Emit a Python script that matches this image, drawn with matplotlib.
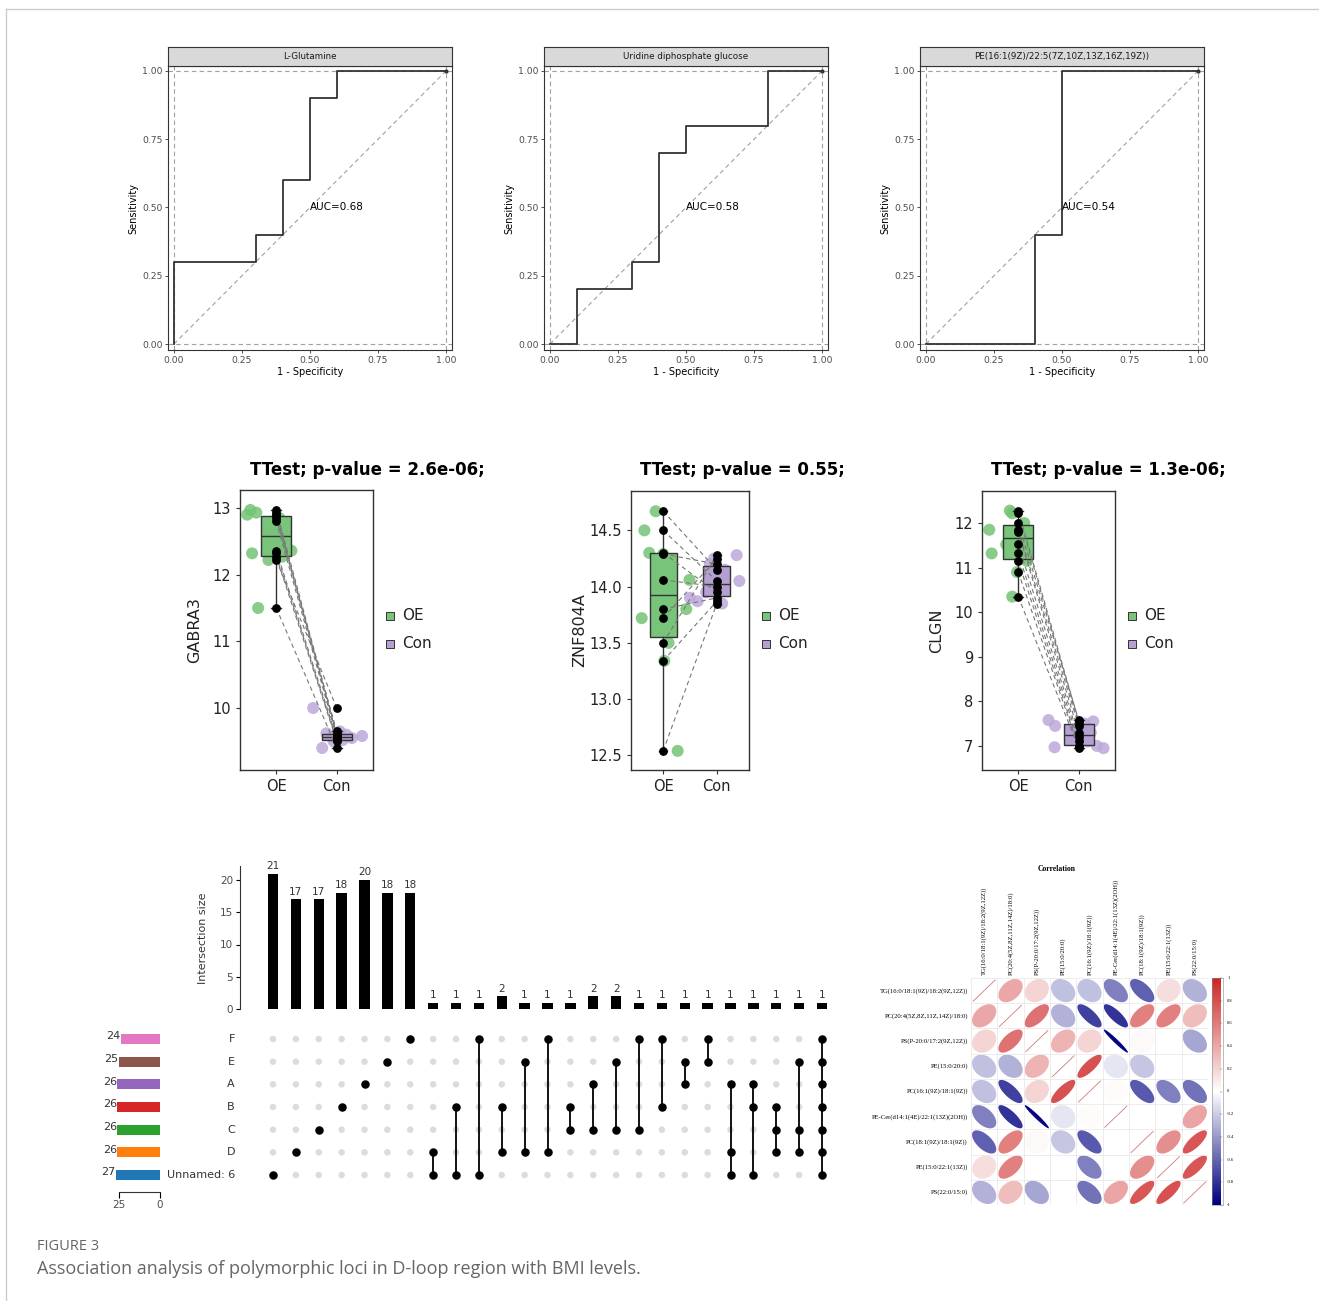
import numpy as np
import matplotlib
matplotlib.use('Agg')
import matplotlib.pyplot as plt
from matplotlib.patches import Polygon, Rectangle
from matplotlib.lines import Line2D
from matplotlib.colors import LinearSegmentedColormap

W, H = 1319, 1301

# ---------------- data ----------------
# ROC curves
roc_names = ["L-Glutamine", "Uridine diphosphate glucose", "PE(16:1(9Z)/22:5(7Z,10Z,13Z,16Z,19Z))"]
roc_fpr = [
    [0, 0, 0.3, 0.3, 0.4, 0.4, 0.5, 0.5, 0.6, 0.6, 1.0],
    [0, 0.1, 0.1, 0.3, 0.3, 0.4, 0.4, 0.5, 0.5, 0.8, 0.8, 1.0],
    [0, 0.4, 0.4, 0.5, 0.5, 1.0],
]
roc_tpr = [
    [0, 0.3, 0.3, 0.4, 0.4, 0.6, 0.6, 0.9, 0.9, 1.0, 1.0],
    [0, 0, 0.2, 0.2, 0.3, 0.3, 0.7, 0.7, 0.8, 0.8, 1.0, 1.0],
    [0, 0, 0.4, 0.4, 1.0, 1.0],
]
roc_auc = [0.68, 0.58, 0.54]

# paired boxplots (OE vs Con), values paired by index
genes = ["GABRA3", "ZNF804A", "CLGN"]
pvals = ["2.6e-06", "0.55", "1.3e-06"]
oe_vals = [
    [12.97, 12.93, 12.90, 12.85, 12.80, 12.36, 12.32, 12.27, 12.22, 11.50],
    [14.67, 14.50, 14.30, 14.29, 14.06, 13.80, 13.72, 13.50, 13.34, 12.54],
    [12.28, 12.22, 12.00, 11.85, 11.80, 11.52, 11.32, 11.15, 10.90, 10.35],
]
con_vals = [
    [9.62, 9.60, 9.58, 9.65, 9.56, 9.55, 9.52, 9.50, 10.00, 9.40],
    [14.15, 14.05, 13.95, 14.20, 14.00, 13.90, 14.25, 14.28, 13.87, 13.85],
    [7.55, 7.50, 7.58, 7.45, 7.30, 7.20, 7.10, 7.00, 6.97, 6.95],
]
# horizontal jitter of the coloured points
oe_jit = [
    [-0.43, -0.33, -0.48, 0.05, -0.05, 0.25, -0.40, 0.10, -0.13, -0.30],
    [-0.14, -0.35, -0.26, 0.00, 0.49, 0.43, -0.40, 0.10, 0.02, 0.27],
    [-0.14, -0.10, 0.10, -0.48, 0.05, -0.20, -0.44, 0.15, -0.02, -0.10],
]
con_jit = [
    [-0.17, 0.16, 0.42, 0.05, -0.08, 0.25, 0.10, -0.05, -0.39, -0.24],
    [0.15, 0.42, -0.20, -0.13, 0.08, -0.50, -0.05, 0.37, -0.36, 0.10],
    [0.24, 0.10, -0.50, -0.39, 0.20, -0.02, 0.15, 0.30, -0.40, 0.41],
]
box_yticks = [[10, 11, 12, 13], [12.5, 13.0, 13.5, 14.0, 14.5], [7, 8, 9, 10, 11, 12]]
box_ylims = [(9.07, 13.27), (12.37, 14.85), (6.46, 12.72)]

# UpSet plot
set_names = ["F", "E", "A", "B", "C", "D", "Unnamed: 6"]
set_sizes = [24, 25, 26, 26, 26, 26, 27]
set_colors = ["#E377C2", "#8C564B", "#9467BD", "#D62728", "#2CA02C", "#FF7F0E", "#1F77B4"]
inter_sizes = [21, 17, 17, 18, 20, 18, 18, 1, 1, 1, 2, 1, 1, 1, 2, 2, 1, 1, 1, 1, 1, 1, 1, 1, 1]
inter_members = [
    ["Unnamed: 6"], ["D"], ["C"], ["B"], ["A"], ["E"], ["F"],
    ["D", "Unnamed: 6"], ["B", "Unnamed: 6"], ["F", "Unnamed: 6"],
    ["B", "D"], ["E", "D"], ["F", "D"], ["B", "C"], ["A", "C"], ["E", "C"],
    ["F", "C"], ["F", "B"], ["E", "A"], ["F", "E"],
    ["A", "D", "Unnamed: 6"], ["A", "B", "Unnamed: 6"], ["B", "C", "D"], ["E", "C", "D"],
    ["F", "E", "A", "B", "C", "D", "Unnamed: 6"],
]

# correlation matrix (nan = not significant, left blank)
corr_names = ["TG(16:0/18:1(9Z)/18:2(9Z,12Z))", "PC(20:4(5Z,8Z,11Z,14Z)/18:0)",
              "PS(P-20:0/17:2(9Z,12Z))", "PE(15:0/20:0)", "PC(16:1(9Z)/18:1(9Z))",
              "PE-Cer(d14:1(4E)/22:1(13Z)(2OH))", "PC(18:1(9Z)/18:1(9Z))",
              "PE(15:0/22:1(13Z))", "PS(22:0/15:0)"]
nan = np.nan
corr = [
    [1.00, 0.40, 0.20, -0.25, -0.25, -0.50, -0.62, 0.15, -0.30],
    [0.40, 1.00, 0.65, -0.30, -0.75, -0.80, 0.58, 0.58, 0.30],
    [0.20, 0.65, 1.00, 0.35, 0.20, -0.97, 0.03, nan, -0.35],
    [-0.25, -0.30, 0.35, 1.00, 0.80, -0.10, -0.22, nan, nan],
    [-0.25, -0.75, 0.20, 0.80, 1.00, 0.02, -0.65, -0.50, -0.55],
    [-0.50, -0.80, -0.97, -0.10, 0.02, 1.00, nan, nan, 0.42],
    [-0.62, 0.58, 0.03, -0.22, -0.65, nan, 1.00, 0.52, 0.78],
    [0.15, 0.58, nan, nan, -0.50, nan, 0.52, 1.00, 0.78],
    [-0.30, 0.30, -0.35, nan, -0.55, 0.42, 0.78, 0.80, 1.00],
]
cbar_ticks = [1, 0.8, 0.6, 0.4, 0.2, 0, -0.2, -0.4, -0.6, -0.8, -1]


def box(x0, y0, x1, y1):
    return [x0 / W, 1 - y1 / H, (x1 - x0) / W, (y1 - y0) / H]


def fx(x):
    return x / W


def fy(y):
    return 1 - y / H


fig = plt.figure(figsize=(W / 100, H / 100), dpi=100)
fig.patch.set_facecolor('white')

# outer frame
fig.add_artist(Line2D([fx(6), fx(1318)], [fy(9), fy(9)], color='#cccccc', lw=1))
fig.add_artist(Line2D([fx(6), fx(6)], [fy(9), 0], color='#cccccc', lw=1))

# ---------------- ROC panels ----------------
for i, x0 in enumerate([168, 544, 920]):
    ax = fig.add_axes(box(x0, 66, x0 + 284, 350))
    ax.set_xlim(-6 / 272, 1 + 6 / 272)
    ax.set_ylim(-6 / 273, 1 + 5 / 273)
    gc = '#a0a0a0'
    for v in (0, 1):
        ax.axhline(v, color=gc, lw=0.8, ls=(0, (4, 3)))
        ax.axvline(v, color=gc, lw=0.8, ls=(0, (4, 3)))
    ax.plot([0, 1], [0, 1], color=gc, lw=0.8, ls=(0, (4, 3)))
    ax.plot(roc_fpr[i], roc_tpr[i], color='#333333', lw=1.3)
    ax.plot([1], [1], 'o', color='#333333', ms=2)
    ax.text(0.5, 0.5, f"AUC={roc_auc[i]:.2f}", fontsize=7.5, ha='left', va='center')
    ax.set_xticks([0, 0.25, 0.5, 0.75, 1.0])
    ax.set_xticklabels(["0.00", "0.25", "0.50", "0.75", "1.00"])
    ax.set_yticks([0, 0.25, 0.5, 0.75, 1.0])
    ax.set_yticklabels(["0.00", "0.25", "0.50", "0.75", "1.00"])
    ax.tick_params(length=2.5, width=0.6, pad=1.5, labelsize=6.7, colors='#333333',
                   labelcolor='#4d4d4d')
    for s in ax.spines.values():
        s.set_color('#333333')
        s.set_linewidth(0.8)
    fig.text(fx(x0 + 142), fy(372), "1 - Specificity", fontsize=7, ha='center', va='center')
    fig.text(fx(x0 - 35), fy(208), "Sensitivity", fontsize=7, ha='center', va='center',
             rotation=90)
    st = fig.add_axes(box(x0, 47, x0 + 284, 66))
    st.set_facecolor('#d9d9d9')
    st.set_xticks([])
    st.set_yticks([])
    for s in st.spines.values():
        s.set_color('#333333')
        s.set_linewidth(0.8)
    st.text(0.5, 0.5, roc_names[i], fontsize=6.3, ha='center', va='center',
            transform=st.transAxes, color='#1a1a1a')

# ---------------- paired boxplots ----------------
green, purple = '#74C476', '#BCA8DA'
green_box, purple_box = '#78C47A', '#B4A0D2'
box_rects = [(240, 490, 373, 770), (631, 491, 749, 770), (982, 491, 1115, 770)]
title_x = [367, 742, 1108]
ylab_x = [195, 580, 937]
legend_x = [390, 766, 1132]
for i, (x0, y0, x1, y1) in enumerate(box_rects):
    ax = fig.add_axes(box(x0, y0, x1, y1))
    ax.set_xlim(0.4, 2.6)
    ax.set_ylim(*box_ylims[i])
    oe = np.array(oe_vals[i])
    con = np.array(con_vals[i])
    bp = ax.boxplot([oe, con], positions=[1, 2], widths=0.5, patch_artist=True,
                    showfliers=False, whis=1.5, capwidths=0.16,
                    medianprops=dict(color='#333333', lw=1),
                    whiskerprops=dict(color='#333333', lw=1),
                    capprops=dict(color='#333333', lw=1),
                    boxprops=dict(edgecolor='#333333', lw=1), zorder=2)
    bp['boxes'][0].set_facecolor(green_box)
    bp['boxes'][1].set_facecolor(purple_box)
    ax.scatter(1 + np.array(oe_jit[i]), oe, s=75, color=green, alpha=0.85,
               edgecolors='none', zorder=1)
    ax.scatter(2 + np.array(con_jit[i]), con, s=75, color=purple, alpha=0.85,
               edgecolors='none', zorder=1)
    for a, b in zip(oe, con):
        ax.plot([1, 2], [a, b], color='#777777', lw=0.8, ls=(0, (4, 3)), zorder=3)
    ax.scatter(np.ones(len(oe)), oe, s=28, color='black', zorder=4)
    ax.scatter(np.full(len(con), 2), con, s=28, color='black', zorder=4)
    ax.set_xticks([1, 2])
    ax.set_xticklabels(["OE", "Con"])
    ax.set_yticks(box_yticks[i])
    if i == 1:
        ax.set_yticklabels([f"{t:.1f}" for t in box_yticks[i]])
    ax.tick_params(length=3, width=0.8, labelsize=10.5, colors='#333333', labelcolor='#222222')
    for s in ax.spines.values():
        s.set_color('#333333')
        s.set_linewidth(1)
    fig.text(fx(title_x[i]), fy(470), f"TTest; p-value = {pvals[i]};", fontsize=12,
             fontweight='bold', ha='center', va='center')
    fig.text(fx(ylab_x[i]), fy((y0 + y1) / 2), genes[i], fontsize=11.5, rotation=90,
             ha='center', va='center', color='#222222')
    for k, (lab, col) in enumerate([("OE", green_box), ("Con", purple_box)]):
        yy = 616 + 28 * k
        fig.add_artist(Rectangle((fx(legend_x[i] - 4), fy(yy + 4)), 8 / W, 8 / H,
                                 facecolor=col, edgecolor='#333333', lw=0.7))
        fig.text(fx(legend_x[i] + 12), fy(yy), lab, fontsize=11, ha='left', va='center',
                 color='#222222')

# ---------------- UpSet plot ----------------
ncol = len(inter_sizes)
step = 22.875
xl = ((240 - 273) / step, (835 - 273) / step)
xs = np.arange(ncol)

axb = fig.add_axes(box(240, 866, 835, 1009))
axb.bar(xs, inter_sizes, width=0.45, color='black')
axb.set_xlim(*xl)
axb.set_ylim(0, (1009 - 866) / 6.45)
for x, v in zip(xs, inter_sizes):
    axb.text(x, v + 0.4, str(v), ha='center', va='bottom', fontsize=7.5, color='#333333')
axb.set_yticks([0, 5, 10, 15, 20])
axb.set_xticks([])
for s in ['top', 'right', 'bottom']:
    axb.spines[s].set_visible(False)
axb.spines['left'].set_color('#333333')
axb.tick_params(axis='y', length=3, width=0.8, labelsize=7.5, labelcolor='#4d4d4d', pad=2)
fig.text(fx(203), fy(938), "Intersection size", fontsize=8, rotation=90, ha='center',
         va='center', color='#333333')

row_of = {name: len(set_names) - 1 - k for k, name in enumerate(set_names)}
axm = fig.add_axes(box(240, 1028, 835, 1192))
axm.set_xlim(*xl)
axm.set_ylim(-(1192 - 1175) / 22.67, 6 + (1039 - 1028) / 22.67)
for x in xs:
    axm.scatter(np.full(len(set_names), x), np.arange(len(set_names)), s=22,
                color='#dcdcdc', zorder=1, edgecolors='none')
for x, mem in zip(xs, inter_members):
    rows = [row_of[m] for m in mem]
    if len(rows) > 1:
        axm.plot([x, x], [min(rows), max(rows)], color='black', lw=1.3, zorder=2)
    axm.scatter(np.full(len(rows), x), rows, s=26, color='black', zorder=3)
for name, r in row_of.items():
    axm.text((235 - 273) / step, r, name, ha='right', va='center', fontsize=8, color='#333333')
axm.axis('off')

axs = fig.add_axes(box(105, 1028, 165, 1192))
axs.set_xlim((160 - 105) / 1.64, -(165 - 160) / 1.64)
axs.set_ylim(-(1192 - 1175) / 22.67, 6 + (1039 - 1028) / 22.67)
for name, n, c in zip(set_names, set_sizes, set_colors):
    r = row_of[name]
    axs.barh(r, n, height=0.45, color=c)
    axs.text(n + 0.3, r + 0.12, str(n), ha='right', va='center', fontsize=8, color='#333333')
for s in ['top', 'right', 'left']:
    axs.spines[s].set_visible(False)
axs.spines['bottom'].set_bounds(0, 25)
axs.spines['bottom'].set_color('#333333')
axs.set_xticks([25, 0])
axs.set_yticks([])
axs.tick_params(axis='x', length=4, width=0.8, labelsize=7.5, labelcolor='#4d4d4d', pad=2)

# ---------------- correlation plot ----------------
cmap = LinearSegmentedColormap.from_list('corr', ['#000080', '#ffffff', '#CD2626'])
n = len(corr_names)
axc = fig.add_axes(box(971, 978, 1208, 1205))
axc.set_xlim(0, n)
axc.set_ylim(0, n)
for k in range(n + 1):
    axc.plot([k, k], [0, n], color='#e6e6e6', lw=0.5)
    axc.plot([0, n], [k, k], color='#e6e6e6', lw=0.5)
tt = np.linspace(0, 2 * np.pi, 120)
scale = 0.46
for r_i in range(n):
    for c_i in range(n):
        r = corr[r_i][c_i]
        cx, cy = c_i + 0.5, n - r_i - 0.5
        if np.isnan(r):
            continue
        if r_i == c_i:
            axc.plot([cx - 0.42, cx + 0.42], [cy - 0.42, cy + 0.42], color='#cf7a7a', lw=0.6)
            continue
        d = np.arccos(r)
        ex = cx + scale * np.cos(tt + d / 2)
        ey = cy + scale * np.cos(tt - d / 2)
        axc.add_patch(Polygon(np.column_stack([ex, ey]), closed=True,
                              facecolor=cmap((r + 1) / 2), edgecolor='none'))
axc.axis('off')
for k, name in enumerate(corr_names):
    axc.text(-0.12, n - k - 0.5, name, ha='right', va='center', fontsize=4.8,
             family='Liberation Serif')
    axc.text(k + 0.5, n + 0.12, name, ha='center', va='bottom', rotation=90, fontsize=4.8,
             family='Liberation Serif')
fig.text(fx(1057), fy(869), "Correlation", fontsize=5.5, fontweight='bold',
         family='Liberation Serif', ha='center', va='center')

axcb = fig.add_axes(box(1212, 978, 1223, 1205))
grad = np.linspace(-1, 1, 200).reshape(-1, 1)
axcb.imshow(grad, aspect='auto', cmap=cmap, origin='lower', extent=(0, 1, -1, 1))
axcb.set_xticks([])
axcb.set_yticks([])
for s in axcb.spines.values():
    s.set_linewidth(0.4)
    s.set_color('#888888')
for t in cbar_ticks:
    axcb.text(1.9, t, f"{t:g}", fontsize=3.3, ha='left', va='center', family='Liberation Serif')
    axcb.plot([1, 1.3], [t, t], color='#555555', lw=0.3, clip_on=False)

# ---------------- caption ----------------
fig.text(fx(37), fy(1246), "FIGURE 3", fontsize=10.5, family='Open Sans', color='#666666',
         ha='left', va='center')
fig.text(fx(37), fy(1269), "Association analysis of polymorphic loci in D-loop region with BMI levels.",
         fontsize=13, family='Open Sans', color='#666666', ha='left', va='center')

fig.savefig('out.png', dpi=100)
